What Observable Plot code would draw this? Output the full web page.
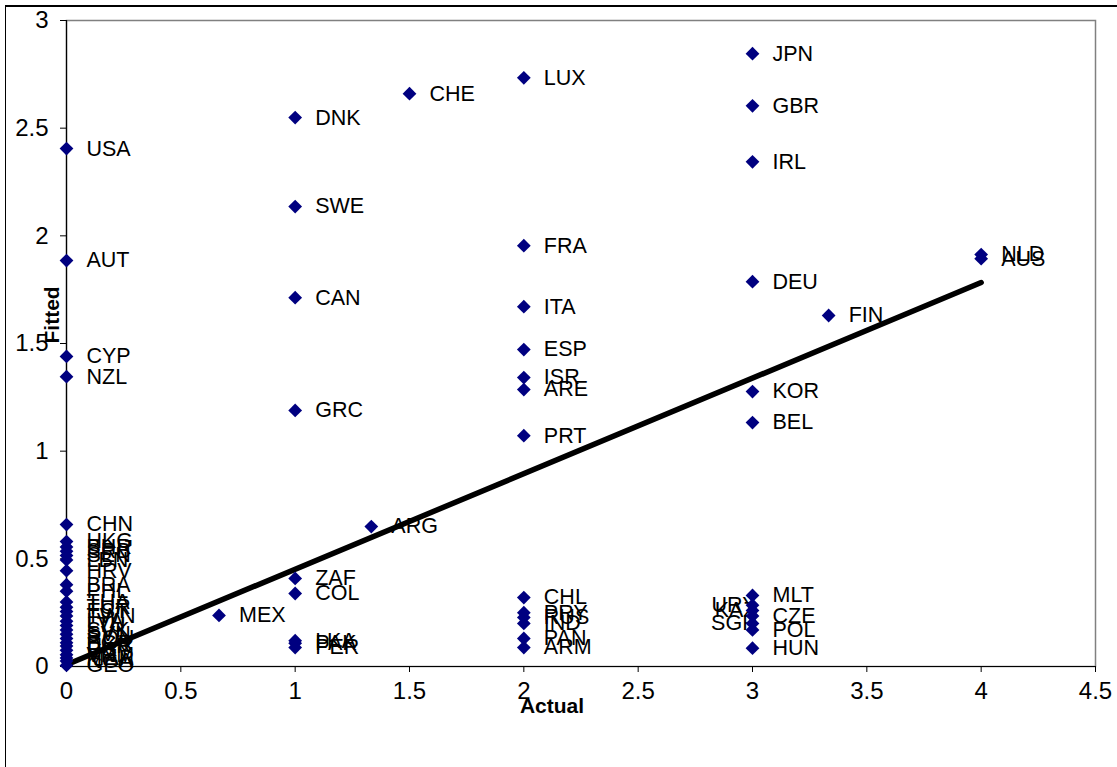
<!DOCTYPE html>
<html><head><meta charset="utf-8">
<script src="https://cdn.jsdelivr.net/npm/d3@7"></script>
<script src="https://cdn.jsdelivr.net/npm/@observablehq/plot@0.6"></script>
<style>
body{margin:0;background:#fff;}
#chart{position:relative;width:1117px;height:767px;overflow:hidden;background:#fff;}
#frame{position:absolute;left:5px;top:5px;width:1200px;height:1000px;border-left:1px solid #000;border-top:2px solid #000;pointer-events:none;}
svg{font-family:"Liberation Sans",Arial,sans-serif;}
</style></head>
<body><div id="chart"><div id="frame"></div></div>
<script>
const codes = ["USA","AUT","CYP","NZL","CHN","HKG","BHR","SRB","SEN","LBN","HRV","BRA","PHL","THA","TUR","EST","TWN","LVA","LTU","SVK","SVN","ROU","BGR","UKR","EGY","VNM","MAR","NGA","GEO",
  "MEX",
  "DNK","SWE","CAN","GRC","ZAF","COL","LKA","PAK","PER",
  "ARG","CHE",
  "LUX","FRA","ITA","ESP","ISR","ARE","PRT","CHL","PRY","RUS","IND","PAN","ARM",
  "JPN","GBR","IRL","DEU","KOR","BEL","MLT","URY","KAZ","CZE","SGP","POL","HUN",
  "FIN","NLD","AUS"];
const actual = [0,0,0,0,0,0,0,0,0,0,0,0,0,0,0,0,0,0,0,0,0,0,0,0,0,0,0,0,0,
  0.667,
  1,1,1,1,1,1,1,1,1,
  1.333,1.5,
  2,2,2,2,2,2,2,2,2,2,2,2,2,
  3,3,3,3,3,3,3,3,3,3,3,3,3,
  3.333,4,4];
const fitted = [2.405,1.885,1.44,1.346,0.659,0.58,0.555,0.535,0.515,0.495,0.445,0.38,0.35,0.30,0.275,0.255,0.235,0.21,0.19,0.17,0.15,0.13,0.11,0.095,0.075,0.055,0.04,0.025,0.005,
  0.237,
  2.549,2.136,1.713,1.189,0.409,0.339,0.12,0.108,0.088,
  0.65,2.66,
  2.734,1.954,1.671,1.472,1.342,1.286,1.072,0.32,0.25,0.228,0.2,0.13,0.088,
  2.846,2.604,2.344,1.787,1.277,1.133,0.33,0.285,0.26,0.235,0.2,0.17,0.085,
  1.63,1.913,1.894];
const leftLabels = ["URY","KAZ","SGP"];
const lineX = [0, 4];
const lineY = [0.008, 1.783];
const xTicks = [0,0.5,1,1.5,2,2.5,3,3.5,4,4.5];
const yTicks = [0,0.5,1,1.5,2,2.5,3];

const pts = codes.map((c,i)=>({code:c, actual:actual[i], fitted:fitted[i], left:leftLabels.includes(c)}));
const fitLine = lineX.map((x,i)=>({x, y:lineY[i]}));
const tickFont = '"Liberation Sans Narrow","Liberation Sans",Arial,sans-serif';

const chart = Plot.plot({
  width:1117, height:767,
  marginLeft:66, marginRight:22, marginTop:20, marginBottom:101,
  x:{domain:[0,4.5]},
  y:{domain:[0,3]},
  style:{fontFamily:'"Liberation Sans",Arial,sans-serif', color:"#000", background:"#fff"},
  marks:[
    Plot.frame({stroke:"#808080", strokeWidth:1.5}),
    Plot.axisX({ticks:xTicks, tickSize:6, tickPadding:9, fontSize:24, fontFamily:tickFont, tickFormat:d=>String(d), label:null, stroke:"#000"}),
    Plot.axisY({ticks:yTicks, tickSize:6, tickPadding:12, fontSize:24, fontFamily:tickFont, tickFormat:d=>String(d), label:null, stroke:"#000"}),
    Plot.ruleX([0], {stroke:"#000", strokeWidth:1.2}),
    Plot.ruleY([0], {stroke:"#000", strokeWidth:1.2}),
    Plot.text(pts.filter(d=>!d.left), {x:"actual", y:"fitted", text:"code", textAnchor:"start", dx:20, fontSize:21.5, fill:"#000"}),
    Plot.text(pts.filter(d=>d.left), {x:"actual", y:"fitted", text:"code", textAnchor:"end", dx:4, fontSize:21.5, fill:"#000"}),
    Plot.line(fitLine, {x:"x", y:"y", stroke:"#000", strokeWidth:5.5}),
    Plot.dot(pts, {x:"actual", y:"fitted", symbol:"diamond2", r:6.2, fill:"#000080", stroke:"none"}),
    Plot.text(["Actual"], {frameAnchor:"bottom", dx:-29, dy:46, fontSize:21, fontWeight:"bold", fill:"#000"}),
    Plot.text(["Fitted"], {frameAnchor:"left", dx:-14, rotate:-90, fontSize:21, fontWeight:"bold", fill:"#000"})
  ]
});
document.getElementById("chart").prepend(chart);
</script>
</body></html>
